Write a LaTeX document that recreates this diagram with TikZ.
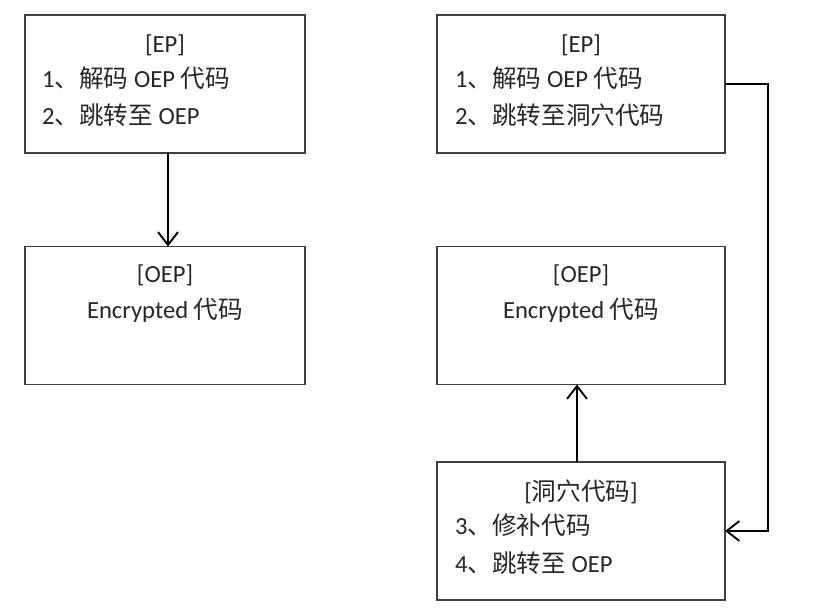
\documentclass[tikz,border=0pt]{standalone}
\usepackage{fontspec}
\setmainfont{Carlito}
\newfontfamily\cjk{Noto Sans CJK SC}
\newcommand{\zh}[1]{{\cjk #1}}
\usetikzlibrary{arrows.meta}
\tikzset{
  blk/.style={draw=black!75,line width=1pt,inner sep=0pt,outer sep=0pt,minimum height=4.14cm},
  txt/.style={inner sep=0pt,text=black!85,font=\fontsize{21}{25}\selectfont},
  flow/.style={line width=1.6pt,-{Straight Barb[length=11pt,width=17pt,line width=1.6pt]}}
}
\begin{document}
\begin{tikzpicture}[x=0.03cm,y=-0.03cm]
              \useasboundingbox(0,0)rectangle(826,613);
              % left column
              \node[blk,minimum width=8.4cm](ep)at(165,84){};
              \node[txt](eph)at(165,45){[EP]};
              \node[txt,anchor=west](ep1)at(42,78){1\zh{、解码} OEP \zh{代码}};
              \node[txt,anchor=west](ep2)at(42,115){2\zh{、跳转至} OEP};
              \node[blk,minimum width=8.4cm](oep)at(165,315.5){};
              \node[txt](oeph)at(165,275){[OEP]};
              \node[txt](oep1)at(165,310){Encrypted \zh{代码}};
              \draw[flow](ep.south-|168,0)--(oep.north-|168,0);
              % right column
              \node[blk,minimum width=8.64cm](ep2b)at(581,84){};
              \node[txt](ep2h)at(581,45){[EP]};
              \node[txt,anchor=west](ep2b1)at(455,78){1\zh{、解码} OEP \zh{代码}};
              \node[txt,anchor=west](ep2b2)at(455,115){2\zh{、跳转至洞穴代码}};
              \node[blk,minimum width=8.64cm](oep2)at(581,315.5){};
              \node[txt](oep2h)at(581,275){[OEP]};
              \node[txt](oep21)at(581,310){Encrypted \zh{代码}};
              \node[blk,minimum width=8.64cm](cave)at(581,531){};
              \node[txt](caveh)at(581,492){[\zh{洞穴代码}]};
              \node[txt,anchor=west](cave1)at(455,525){3\zh{、修补代码}};
              \node[txt,anchor=west](cave2)at(455,563){4\zh{、跳转至} OEP};
              \draw[flow](cave.north-|577,0)--(oep2.south-|577,0);
              \draw[flow](ep2b.east)--++(43,0)|-(cave.east);
\end{tikzpicture}
\end{document}
